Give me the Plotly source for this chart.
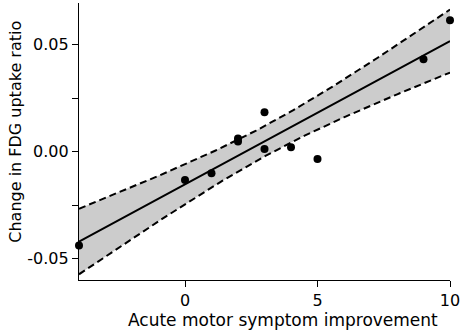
import numpy as np
import plotly.graph_objects as go

# Data
improvement = [-4, 0, 1, 2, 2, 3, 3, 4, 5, 9, 10]
fdg_change = [-0.0439, -0.0132, -0.0101, 0.0062, 0.0047, 0.0184, 0.0013, 0.0021, -0.0034, 0.0432, 0.0614]
x_ticks = [0, 5, 10]
y_ticks = [-0.05, 0.0, 0.05]
y_minor_ticks = [-0.025, 0.025]
x_title = "Acute motor symptom improvement"
y_title = "Change in FDG uptake ratio"

# Ordinary least squares fit with 95% confidence band of the mean
x = np.array(improvement, dtype=float)
y = np.array(fdg_change, dtype=float)
n = len(x)
xbar = x.mean()
sxx = ((x - xbar) ** 2).sum()
slope = ((x - xbar) * (y - y.mean())).sum() / sxx
intercept = y.mean() - slope * xbar
resid = y - (intercept + slope * x)
s = np.sqrt((resid ** 2).sum() / (n - 2))
t_crit = 2.262  # t(0.975, df=9)
xg = np.linspace(-4, 10, 200)
yg = intercept + slope * xg
half = t_crit * s * np.sqrt(1.0 / n + (xg - xbar) ** 2 / sxx)
upper = yg + half
lower = yg - half

fig = go.Figure()
fig.add_trace(go.Scatter(x=xg, y=lower, mode="lines",
                         line=dict(color="black", width=2, dash="7px,4px"),
                         hoverinfo="skip", showlegend=False))
fig.add_trace(go.Scatter(x=xg, y=upper, mode="lines", fill="tonexty",
                         fillcolor="rgb(204,204,204)",
                         line=dict(color="black", width=2, dash="7px,4px"),
                         hoverinfo="skip", showlegend=False))
fig.add_trace(go.Scatter(x=xg, y=yg, mode="lines",
                         line=dict(color="black", width=2),
                         showlegend=False))
fig.add_trace(go.Scatter(x=improvement, y=fdg_change, mode="markers",
                         marker=dict(color="black", size=8),
                         cliponaxis=False, showlegend=False))

fam = "DejaVu Sans, Arial, sans-serif"
fig.update_layout(
    width=463, height=334,
    margin=dict(l=79, r=13, t=3, b=54, autoexpand=False),
    plot_bgcolor="white", paper_bgcolor="white",
    font=dict(family=fam, color="black", size=16),
    xaxis=dict(range=[-4, 10], tickvals=x_ticks, ticktext=[str(v) for v in x_ticks],
               showline=True, linecolor="black", linewidth=1.2,
               ticks="outside", ticklen=6, tickcolor="black",
               showgrid=False, zeroline=False, automargin=False,
               tickfont=dict(size=16)),
    yaxis=dict(range=[-0.060, 0.0695], tickvals=y_ticks,
               ticktext=["%.2f" % v for v in y_ticks],
               showline=True, linecolor="black", linewidth=1.2,
               ticks="outside", ticklen=6, tickcolor="black",
               minor=dict(tickvals=y_minor_ticks, ticks="outside", ticklen=6, tickcolor="black"),
               showgrid=False, zeroline=False, automargin=False,
               tickfont=dict(size=16)),
    annotations=[
        dict(text=x_title, xref="paper", yref="paper", x=0.5507, y=-0.144,
             xanchor="center", yanchor="middle", showarrow=False,
             font=dict(family=fam, size=17, color="black")),
        dict(text=y_title, xref="paper", yref="paper", x=-0.1698, y=0.5354,
             xanchor="center", yanchor="middle", textangle=-90, showarrow=False,
             font=dict(family=fam, size=16, color="black")),
    ],
)
fig.write_html("out.html", config={"displayModeBar": False},
               post_script="document.body.style.margin='0';")
